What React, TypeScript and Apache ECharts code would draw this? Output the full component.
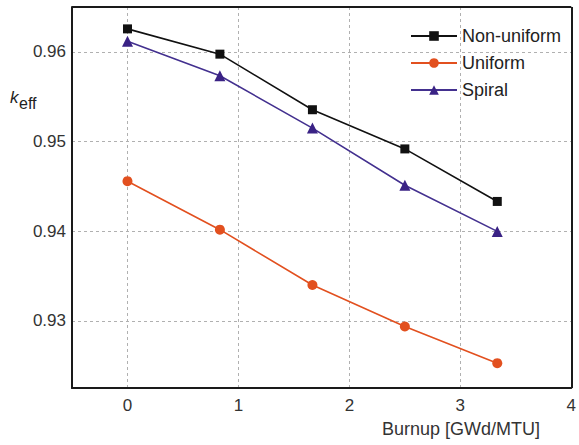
import React, { useEffect, useRef } from "react";
import * as echarts from "echarts";

const burnup = [0, 0.833, 1.667, 2.5, 3.333];
const nonUniform = [0.96256, 0.95974, 0.95354, 0.94917, 0.94331];
const uniform = [0.94557, 0.94016, 0.93399, 0.92936, 0.92527];
const spiral = [0.96117, 0.95733, 0.95149, 0.94512, 0.93997];
const xTicks = [0, 1, 2, 3, 4];
const yTicks = [0.93, 0.94, 0.95, 0.96];
const X_MIN = -0.5;
const X_MAX = 4;
const Y_MIN = 0.9225;
const Y_MAX = 0.965;

const FONT = "'Liberation Sans', Arial, Helvetica, sans-serif";
const BORDER = "#1a1a1a";

export default function App() {
  const ref = useRef<HTMLDivElement>(null);
  useEffect(() => {
    if (!ref.current) return;
    const chart = echarts.init(ref.current, null, { renderer: "svg" });
    const pair = (ys: number[]) => burnup.map((x, i) => [x, ys[i]]);
    chart.setOption({
      animation: false,
      textStyle: { fontFamily: FONT },
      grid: {
        left: 72,
        right: 4,
        top: 7,
        bottom: 57,
      },
      legend: {
        orient: "vertical",
        left: 405,
        top: 22,
        itemWidth: 46,
        itemHeight: 12,
        itemGap: 9,
        textStyle: { fontFamily: FONT, fontSize: 18, color: "#222" },
        data: ["Non-uniform", "Uniform", "Spiral"],
      },
      xAxis: {
        type: "value",
        min: X_MIN,
        max: X_MAX,
        axisLine: { show: true, onZero: false, lineStyle: { color: BORDER, width: 2 } },
        axisTick: { show: false, customValues: xTicks },
        axisLabel: {
          customValues: xTicks,
          margin: 9,
          fontSize: 17,
          color: "#333",
          fontFamily: FONT,
          showMaxLabel: true,
        },
        splitLine: {
          show: true,
          lineStyle: { color: "#b0b0b0", type: [3, 3], width: 1 },
        },
      },
      yAxis: {
        type: "value",
        min: Y_MIN,
        max: Y_MAX,
        axisLine: { show: true, onZero: false, lineStyle: { color: BORDER, width: 2 } },
        axisTick: { show: false, customValues: yTicks },
        axisLabel: {
          customValues: yTicks,
          margin: 6,
          fontSize: 17,
          color: "#333",
          fontFamily: FONT,
          formatter: (v: number) => v.toFixed(2),
        },
        splitLine: {
          show: true,
          lineStyle: { color: "#b0b0b0", type: [3, 3], width: 1 },
        },
      },
      graphic: [
        {
          type: "text",
          x: 10,
          y: 89,
          style: {
            text: "k",
            font: `italic 17px ${FONT}`,
            fill: "#222",
          },
        },
        {
          type: "text",
          x: 19,
          y: 95,
          style: {
            text: "eff",
            font: `16px ${FONT}`,
            fill: "#222",
          },
        },
        {
          type: "text",
          x: 382,
          y: 420,
          style: {
            text: "Burnup [GWd/MTU]",
            font: `18px ${FONT}`,
            fill: "#333",
          },
        },
      ],
      series: [
        {
          name: "Non-uniform",
          type: "line",
          data: pair(nonUniform),
          symbol: "rect",
          symbolSize: 9,
          lineStyle: { color: "#111", width: 1.6 },
          itemStyle: { color: "#111" },
          markLine: {
            silent: true,
            symbol: "none",
            precision: 6,
            label: { show: false },
            lineStyle: { color: BORDER, width: 2, type: "solid" },
            data: [{ yAxis: Y_MAX }, { xAxis: X_MAX }],
          },
        },
        {
          name: "Uniform",
          type: "line",
          data: pair(uniform),
          symbol: "circle",
          symbolSize: 10,
          lineStyle: { color: "#e2501f", width: 1.6 },
          itemStyle: { color: "#e2501f" },
        },
        {
          name: "Spiral",
          type: "line",
          data: pair(spiral),
          symbol: "triangle",
          symbolSize: 11,
          lineStyle: { color: "#43308f", width: 1.6 },
          itemStyle: { color: "#3a2285" },
        },
      ],
    });
    return () => chart.dispose();
  }, []);
  return (
    <div
      ref={ref}
      style={{ position: "absolute", left: 0, top: 0, width: 579, height: 445 }}
    />
  );
}
